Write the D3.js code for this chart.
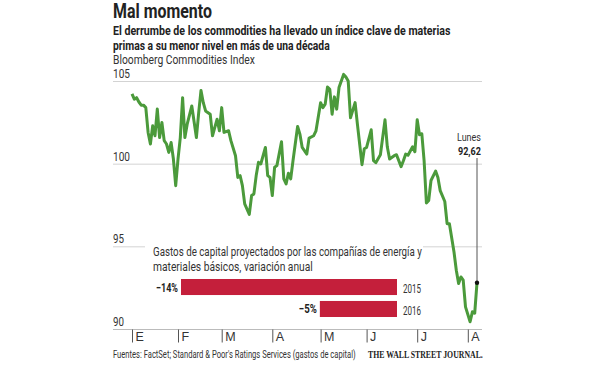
<!DOCTYPE html>
<html>
<head>
<meta charset="utf-8">
<script src="https://cdn.jsdelivr.net/npm/d3@7"></script>
<style>
  body { margin: 0; background: #fff; }
  svg { display: block; font-family: "Roboto", "Liberation Sans", sans-serif; }
</style>
</head>
<body>
<div class="graph"></div>
<script>
// Bloomberg Commodities Index, trading-day index from 2 Jan
var dayIndex = [0, 1, 2, 3, 4, 5, 6, 7, 8, 9, 10, 11, 12, 13, 14, 15, 16, 17, 18, 19,
    20, 21, 22, 23, 24, 26, 28, 29, 30, 31, 32, 34, 35, 37, 38, 39, 40, 42, 43, 45,
    46, 47, 48, 49, 51, 52, 53, 54, 55, 56, 58, 59, 60, 61, 62, 63, 65, 66, 67, 68,
    69, 70, 72, 73, 74, 76, 77, 79, 80, 82, 83, 84, 85, 86, 87, 88, 89, 90, 92, 93,
    94, 95, 97, 98, 100, 101, 102, 104, 105, 106, 108, 110, 111, 112, 114, 115, 117, 118, 119, 120,
    122, 123, 124, 125, 126, 127, 128, 129, 130, 132, 133, 134, 136, 137, 138, 140, 141, 142, 143, 144,
    145, 147, 148, 149, 150];
var index = [104.22, 103.90, 103.99, 103.73, 103.54, 103.54, 103.39, 101.89, 101.19, 102.29, 101.69, 103.30, 101.58, 102.49, 101.39, 101.19, 100.68, 101.28, 100.28, 98.67,
    100.28, 101.58, 103.99, 101.58, 102.39, 103.49, 101.58, 103.09, 104.43, 103.69, 103.19, 102.99, 101.69, 102.69, 101.99, 103.39, 101.89, 101.99, 101.39, 100.48,
    99.17, 99.28, 98.67, 97.57, 96.93, 98.07, 98.17, 99.28, 100.08, 99.98, 100.98, 99.28, 99.17, 98.07, 99.78, 99.88, 101.33, 99.08, 98.78, 99.42,
    99.08, 100.18, 102.25, 101.79, 100.98, 100.58, 101.55, 101.69, 101.99, 103.69, 103.39, 103.60, 104.64, 104.50, 102.99, 104.04, 103.30, 104.60, 105.40, 105.24,
    105.00, 102.77, 103.69, 102.39, 99.94, 100.90, 100.98, 102.05, 100.18, 100.06, 100.54, 102.65, 101.02, 100.28, 100.48, 100.54, 99.82, 100.18, 100.58, 100.51,
    101.02, 100.72, 102.65, 101.75, 101.81, 100.18, 97.62, 97.77, 98.98, 99.55, 99.16, 98.37, 97.71, 96.37, 96.37, 94.66, 93.55, 92.75, 93.15, 92.95,
    91.34, 90.44, 91.04, 90.95, 92.80];

var monthIdx = [0, 20, 39, 61, 82, 102, 124, 146];
var monthLabels = ["E", "F", "M", "A", "M", "J", "J", "A"];
var yTicks = [90, 95, 100, 105];

// capex panel
var capexYears = ["2015", "2016"];
var capexChange = [-14, -5];
var capexLabels = ["\u221214%", "\u22125%"];

var width = 600, height = 370;
var left = 113, right = 482;
var green = "#4b9a3b", red = "#c41f3b", grid = "#d3d3d3", ink = "#222";

var svg = d3.select(".graph").append("svg")
    .attr("width", width)
    .attr("height", height);

// condensed look: squeeze each text horizontally to the width it has in the original
function label(parent, px, py, str, size, w, bold, family) {
    var g = parent.append("g");
    var t = g.append("text")
        .style("font-size", size + "px").attr("fill", bold ? ink : "#333")
        .text(str);
    if (bold) t.style("font-weight", "bold");
    if (family) t.style("font-family", family);
    var k = w ? w / t.node().getComputedTextLength() : 1;
    g.attr("transform", "translate(" + px + "," + py + ") scale(" + k + ",1)");
    return t;
}

// Titles
label(svg, left, 18, "Mal momento", 20, 99, true);
label(svg, left, 35, "El derrumbe de los commodities ha llevado un índice clave de materias", 13.5, 338, true);
label(svg, left, 50, "primas a su menor nivel en más de una década", 13.5, 217, true);
label(svg, left, 64, "Bloomberg Commodities Index", 12.5, 142, false);

// Scales
var x = d3.scaleLinear().domain([0, 150]).range([132, 477]);
var y = d3.scaleLinear().domain([90, 105]).range([329, 81]);

// Gridlines + labels
var gl = svg.append("g");
gl.selectAll("line").data(yTicks).enter().append("line")
    .attr("x1", left).attr("x2", right)
    .attr("y1", function (d) { return y(d) + 0.5; })
    .attr("y2", function (d) { return y(d) + 0.5; })
    .attr("stroke", function (d) { return d === 90 ? "#bbb" : grid; });
yTicks.forEach(function (d) {
    label(gl, left, y(d) - 3, String(d), 12.5, d >= 100 ? 17 : 11, false);
});

// Month axis
var xAxis = d3.axisBottom(x)
    .tickValues(monthIdx)
    .tickSize(13)
    .tickFormat(function (d, i) { return monthLabels[i]; });
var ax = svg.append("g")
    .attr("transform", "translate(0," + (y(90) + 0.5) + ")")
    .call(xAxis);
ax.select(".domain").remove();
ax.selectAll(".tick line").attr("stroke", "#555");
ax.selectAll(".tick text")
    .attr("text-anchor", "start").attr("x", 3).attr("y", 3)
    .style("font-size", "12.5px").style("font-family", "inherit").attr("fill", "#333");

// Index line
var line = d3.line()
    .x(function (d, i) { return x(dayIndex[i]); })
    .y(function (d) { return y(d); });
svg.append("path").datum(index)
    .attr("d", line)
    .attr("fill", "none")
    .attr("stroke", green)
    .attr("stroke-width", 3)
    .attr("stroke-linejoin", "round");

// Annotation for last value
var lastX = x(dayIndex[dayIndex.length - 1]);
var lastY = y(index[index.length - 1]);
svg.append("line")
    .attr("x1", lastX).attr("x2", lastX)
    .attr("y1", 158).attr("y2", lastY)
    .attr("stroke", "#555").attr("stroke-width", 1);
svg.append("circle").attr("cx", lastX).attr("cy", lastY).attr("r", 2.2).attr("fill", "#111");
label(svg, 457, 141, "Lunes", 11, 24, false);
label(svg, 458, 155, "92,62", 11.5, 23, true);

// Capex panel
var panel = svg.append("g");
panel.append("rect")
    .attr("x", 145).attr("y", 237).attr("width", 278).attr("height", 85)
    .attr("fill", "#fff");
label(panel, 153, 256, "Gastos de capital proyectados por las compañías de energía y", 12, 269, false);
label(panel, 153, 271, "materiales básicos, variación anual", 12, 160, false);

var bx = d3.scaleLinear().domain([-14, 0]).range([181, 397]);
var by = d3.scaleBand().domain(capexYears).range([279, 317]).paddingInner(0.27);

panel.selectAll("rect.bar").data(capexChange).enter().append("rect")
    .attr("class", "bar")
    .attr("x", function (d) { return bx(d); })
    .attr("y", function (d, i) { return by(capexYears[i]); })
    .attr("width", function (d) { return bx(0) - bx(d); })
    .attr("height", by.bandwidth())
    .attr("fill", red);
capexChange.forEach(function (d, i) {
    var w = i === 0 ? 22 : 18;
    label(panel, bx(d) - 3 - w, by(capexYears[i]) + by.bandwidth() / 2 + 4.5, capexLabels[i], 12.5, w, true);
    label(panel, bx(0) + 6, by(capexYears[i]) + by.bandwidth() / 2 + 6, capexYears[i], 12.5, 18, false);
});

// Footer
label(svg, left, 358, "Fuentes: FactSet; Standard & Poor's Ratings Services (gastos de capital)", 10.5, 243, false);
label(svg, 368, 358, "THE WALL STREET JOURNAL.", 10, 115, true, "'Liberation Serif', 'DejaVu Serif', serif");
</script>
</body>
</html>
